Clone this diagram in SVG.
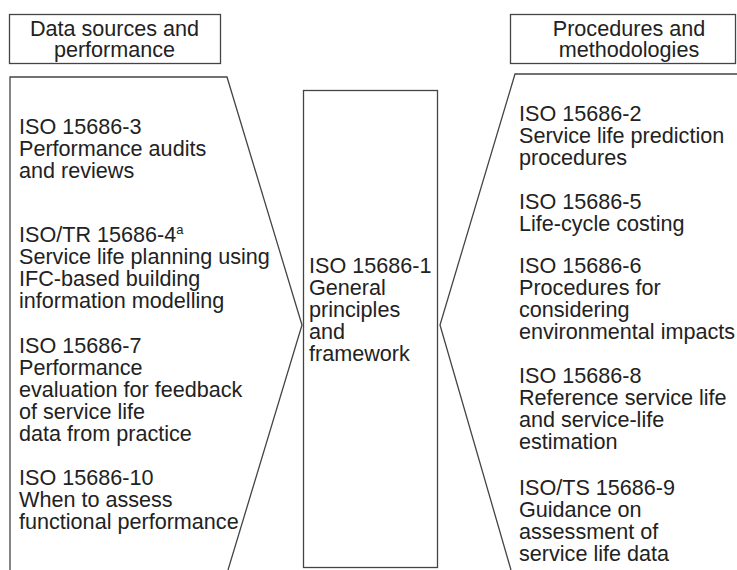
<svg xmlns="http://www.w3.org/2000/svg" width="737" height="570" viewBox="0 0 737 570">
<style>
.ln{fill:none;stroke:#444;stroke-width:1.3}
.box{fill:#fff;stroke:#444;stroke-width:1.3}
text{font-family:"Liberation Sans",Arial,sans-serif;font-size:21.6px;fill:#222}
.c{text-anchor:middle}
.sup{font-size:13px}
</style>
<rect width="737" height="570" fill="#fff"/>
<g id="header-left">
<rect class="box" x="9.5" y="14.5" width="211" height="49"/>
<text class="c" x="114.5" y="36">Data sources and</text>
<text class="c" x="114.5" y="57">performance</text>
</g>
<g id="header-right">
<rect class="box" x="510.5" y="14.5" width="225" height="49"/>
<text class="c" x="629" y="36">Procedures and</text>
<text class="c" x="629" y="57">methodologies</text>
</g>
<g id="connectors">
<path class="ln" d="M10,570 L10,77 L227,77 L302,325 L228,570"/>
<path class="ln" d="M737,74 L515,74 L440,325 L511,570"/>
</g>
<g id="left-column">
<text x="19" y="134">ISO 15686-3</text>
<text x="19" y="156">Performance audits</text>
<text x="19" y="178">and reviews</text>
<text x="19" y="242">ISO/TR 15686-4<tspan class="sup" dy="-8">a</tspan></text>
<text x="19" y="264">Service life planning using</text>
<text x="19" y="286">IFC-based building</text>
<text x="19" y="308">information modelling</text>
<text x="19" y="353">ISO 15686-7</text>
<text x="19" y="375">Performance</text>
<text x="19" y="397">evaluation for feedback</text>
<text x="19" y="419">of service life</text>
<text x="19" y="441">data from practice</text>
<text x="19" y="485">ISO 15686-10</text>
<text x="19" y="507">When to assess</text>
<text x="19" y="529">functional performance</text>
</g>
<g id="center">
<rect class="box" x="303.5" y="90.5" width="134" height="477"/>
<text x="309" y="273">ISO 15686-1</text>
<text x="309" y="295">General</text>
<text x="309" y="317">principles</text>
<text x="309" y="339">and</text>
<text x="309" y="361">framework</text>
</g>
<g id="right-column">
<text x="519" y="121">ISO 15686-2</text>
<text x="519" y="143">Service life prediction</text>
<text x="519" y="165">procedures</text>
<text x="519" y="209">ISO 15686-5</text>
<text x="519" y="231">Life-cycle costing</text>
<text x="519" y="273">ISO 15686-6</text>
<text x="519" y="295">Procedures for</text>
<text x="519" y="317">considering</text>
<text x="519" y="339">environmental impacts</text>
<text x="519" y="383">ISO 15686-8</text>
<text x="519" y="405">Reference service life</text>
<text x="519" y="427">and service-life</text>
<text x="519" y="449">estimation</text>
<text x="519" y="495">ISO/TS 15686-9</text>
<text x="519" y="517">Guidance on</text>
<text x="519" y="539">assessment of</text>
<text x="519" y="561">service life data</text>
</g>
</svg>
